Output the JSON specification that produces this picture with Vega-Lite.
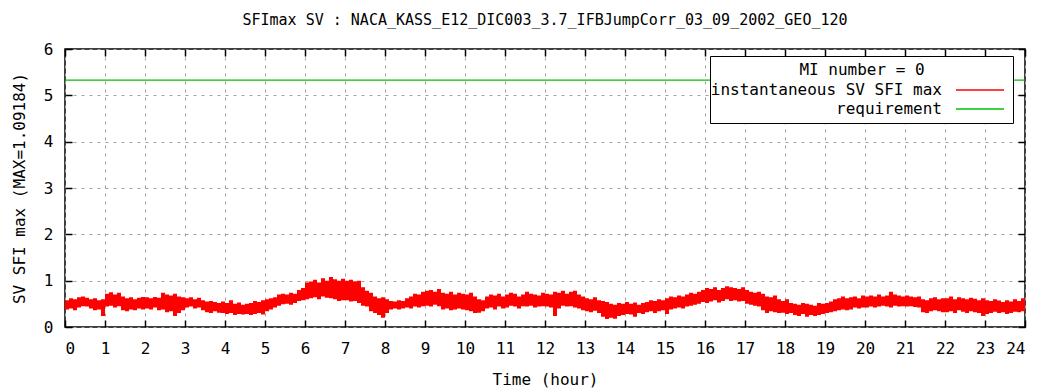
{
  "$schema": "https://vega.github.io/schema/vega-lite/v6.json",
  "width": 960,
  "height": 278,
  "autosize": {"type": "none"},
  "padding": {"left": 65, "top": 49, "right": 18, "bottom": 61},
  "background": "white",
  "title": {"text": "SFImax SV : NACA_KASS_E12_DIC003_3.7_IFBJumpCorr_03_09_2002_GEO_120", "font": "DejaVu Sans Mono", "fontSize": 15, "fontWeight": "normal", "color": "black", "offset": 13, "anchor": "middle"},
  "config": {
    "font": "DejaVu Sans Mono",
    "view": {"stroke": "black", "strokeWidth": 1.5},
    "axis": {"labelFont": "DejaVu Sans Mono", "labelFontSize": 16, "labelColor": "black", "titleFont": "DejaVu Sans Mono", "titleFontSize": 16, "titleFontWeight": "normal", "titleColor": "black", "tickColor": "black", "tickWidth": 1.5, "tickSize": -7, "domain": false, "gridColor": "#a0a0a0", "gridDash": [3, 5], "gridWidth": 1},
    "legend": {"orient": "none", "legendX": 645, "legendY": 7, "padding": 6, "strokeColor": "black", "fillColor": "white", "titleFont": "DejaVu Sans Mono", "titleFontSize": 16, "titleFontWeight": "normal", "titleColor": "black", "titleAnchor": "middle", "titleAlign": "center", "titlePadding": 4, "labelFont": "DejaVu Sans Mono", "labelFontSize": 16, "labelColor": "black", "labelAlign": "right", "labelOffset": -46, "labelLimit": 400, "symbolOffset": 256, "symbolType": "M-6,0H6", "symbolSize": 64, "symbolStrokeWidth": 1.5, "symbolFillColor": "transparent", "rowPadding": 3}
  },
  "datasets": {
    "sv": [
      {"t":0,"lo":0.38,"hi":0.58},{"t":0.1,"lo":0.40,"hi":0.62},{"t":0.2,"lo":0.36,"hi":0.60},{"t":0.3,"lo":0.42,"hi":0.64},{"t":0.4,"lo":0.45,"hi":0.66},{"t":0.5,"lo":0.44,"hi":0.63},{"t":0.6,"lo":0.40,"hi":0.60},{"t":0.7,"lo":0.36,"hi":0.62},{"t":0.8,"lo":0.38,"hi":0.58},{"t":0.9,"lo":0.24,"hi":0.60},
      {"t":1,"lo":0.44,"hi":0.72},{"t":1.1,"lo":0.46,"hi":0.75},{"t":1.2,"lo":0.42,"hi":0.70},{"t":1.3,"lo":0.45,"hi":0.74},{"t":1.4,"lo":0.36,"hi":0.66},{"t":1.5,"lo":0.34,"hi":0.62},{"t":1.6,"lo":0.38,"hi":0.64},{"t":1.7,"lo":0.36,"hi":0.60},{"t":1.8,"lo":0.40,"hi":0.63},{"t":1.9,"lo":0.38,"hi":0.65},
      {"t":2,"lo":0.40,"hi":0.64},{"t":2.1,"lo":0.38,"hi":0.62},{"t":2.2,"lo":0.42,"hi":0.65},{"t":2.3,"lo":0.36,"hi":0.63},{"t":2.4,"lo":0.38,"hi":0.74},{"t":2.5,"lo":0.32,"hi":0.70},{"t":2.6,"lo":0.34,"hi":0.68},{"t":2.7,"lo":0.24,"hi":0.72},{"t":2.8,"lo":0.30,"hi":0.66},{"t":2.9,"lo":0.36,"hi":0.64},
      {"t":3,"lo":0.42,"hi":0.62},{"t":3.1,"lo":0.44,"hi":0.64},{"t":3.2,"lo":0.40,"hi":0.60},{"t":3.3,"lo":0.42,"hi":0.63},{"t":3.4,"lo":0.36,"hi":0.58},{"t":3.5,"lo":0.32,"hi":0.55},{"t":3.6,"lo":0.30,"hi":0.56},{"t":3.7,"lo":0.34,"hi":0.54},{"t":3.8,"lo":0.31,"hi":0.52},{"t":3.9,"lo":0.30,"hi":0.55},
      {"t":4,"lo":0.28,"hi":0.52},{"t":4.1,"lo":0.30,"hi":0.58},{"t":4.2,"lo":0.26,"hi":0.50},{"t":4.3,"lo":0.28,"hi":0.53},{"t":4.4,"lo":0.27,"hi":0.48},{"t":4.5,"lo":0.28,"hi":0.50},{"t":4.6,"lo":0.26,"hi":0.52},{"t":4.7,"lo":0.28,"hi":0.56},{"t":4.8,"lo":0.30,"hi":0.54},{"t":4.9,"lo":0.27,"hi":0.58},
      {"t":5,"lo":0.34,"hi":0.60},{"t":5.1,"lo":0.38,"hi":0.62},{"t":5.2,"lo":0.42,"hi":0.64},{"t":5.3,"lo":0.46,"hi":0.70},{"t":5.4,"lo":0.49,"hi":0.72},{"t":5.5,"lo":0.50,"hi":0.70},{"t":5.6,"lo":0.48,"hi":0.74},{"t":5.7,"lo":0.52,"hi":0.72},{"t":5.8,"lo":0.56,"hi":0.80},{"t":5.9,"lo":0.58,"hi":0.84},
      {"t":6,"lo":0.60,"hi":0.96},{"t":6.1,"lo":0.62,"hi":0.98},{"t":6.2,"lo":0.64,"hi":1.02},{"t":6.3,"lo":0.60,"hi":0.96},{"t":6.4,"lo":0.66,"hi":1.05},{"t":6.5,"lo":0.63,"hi":1.00},{"t":6.6,"lo":0.62,"hi":1.08},{"t":6.7,"lo":0.60,"hi":1.03},{"t":6.8,"lo":0.56,"hi":1.00},{"t":6.9,"lo":0.58,"hi":1.04},
      {"t":7,"lo":0.58,"hi":1.00},{"t":7.1,"lo":0.55,"hi":1.02},{"t":7.2,"lo":0.56,"hi":0.98},{"t":7.3,"lo":0.52,"hi":1.00},{"t":7.4,"lo":0.46,"hi":0.86},{"t":7.5,"lo":0.44,"hi":0.78},{"t":7.6,"lo":0.34,"hi":0.74},{"t":7.7,"lo":0.30,"hi":0.66},{"t":7.8,"lo":0.26,"hi":0.62},{"t":7.9,"lo":0.20,"hi":0.64},
      {"t":8,"lo":0.30,"hi":0.60},{"t":8.1,"lo":0.38,"hi":0.56},{"t":8.2,"lo":0.40,"hi":0.55},{"t":8.3,"lo":0.38,"hi":0.58},{"t":8.4,"lo":0.40,"hi":0.56},{"t":8.5,"lo":0.42,"hi":0.62},{"t":8.6,"lo":0.40,"hi":0.66},{"t":8.7,"lo":0.44,"hi":0.72},{"t":8.8,"lo":0.42,"hi":0.70},{"t":8.9,"lo":0.45,"hi":0.76},
      {"t":9,"lo":0.46,"hi":0.78},{"t":9.1,"lo":0.44,"hi":0.80},{"t":9.2,"lo":0.48,"hi":0.76},{"t":9.3,"lo":0.45,"hi":0.82},{"t":9.4,"lo":0.38,"hi":0.74},{"t":9.5,"lo":0.40,"hi":0.72},{"t":9.6,"lo":0.36,"hi":0.76},{"t":9.7,"lo":0.38,"hi":0.70},{"t":9.8,"lo":0.40,"hi":0.74},{"t":9.9,"lo":0.38,"hi":0.72},
      {"t":10,"lo":0.36,"hi":0.70},{"t":10.1,"lo":0.34,"hi":0.74},{"t":10.2,"lo":0.30,"hi":0.66},{"t":10.3,"lo":0.31,"hi":0.60},{"t":10.4,"lo":0.34,"hi":0.58},{"t":10.5,"lo":0.40,"hi":0.66},{"t":10.6,"lo":0.42,"hi":0.70},{"t":10.7,"lo":0.38,"hi":0.68},{"t":10.8,"lo":0.44,"hi":0.72},{"t":10.9,"lo":0.40,"hi":0.66},
      {"t":11,"lo":0.42,"hi":0.70},{"t":11.1,"lo":0.46,"hi":0.74},{"t":11.2,"lo":0.44,"hi":0.72},{"t":11.3,"lo":0.40,"hi":0.66},{"t":11.4,"lo":0.45,"hi":0.70},{"t":11.5,"lo":0.44,"hi":0.76},{"t":11.6,"lo":0.46,"hi":0.72},{"t":11.7,"lo":0.42,"hi":0.70},{"t":11.8,"lo":0.44,"hi":0.68},{"t":11.9,"lo":0.45,"hi":0.74},
      {"t":12,"lo":0.44,"hi":0.72},{"t":12.1,"lo":0.42,"hi":0.70},{"t":12.2,"lo":0.24,"hi":0.76},{"t":12.3,"lo":0.40,"hi":0.74},{"t":12.4,"lo":0.46,"hi":0.78},{"t":12.5,"lo":0.44,"hi":0.72},{"t":12.6,"lo":0.45,"hi":0.76},{"t":12.7,"lo":0.42,"hi":0.78},{"t":12.8,"lo":0.40,"hi":0.70},{"t":12.9,"lo":0.36,"hi":0.66},
      {"t":13,"lo":0.34,"hi":0.62},{"t":13.1,"lo":0.32,"hi":0.60},{"t":13.2,"lo":0.35,"hi":0.64},{"t":13.3,"lo":0.30,"hi":0.58},{"t":13.4,"lo":0.22,"hi":0.56},{"t":13.5,"lo":0.17,"hi":0.54},{"t":13.6,"lo":0.20,"hi":0.50},{"t":13.7,"lo":0.18,"hi":0.48},{"t":13.8,"lo":0.24,"hi":0.52},{"t":13.9,"lo":0.26,"hi":0.50},
      {"t":14,"lo":0.28,"hi":0.54},{"t":14.1,"lo":0.27,"hi":0.50},{"t":14.2,"lo":0.22,"hi":0.53},{"t":14.3,"lo":0.30,"hi":0.48},{"t":14.4,"lo":0.28,"hi":0.52},{"t":14.5,"lo":0.32,"hi":0.54},{"t":14.6,"lo":0.34,"hi":0.58},{"t":14.7,"lo":0.30,"hi":0.56},{"t":14.8,"lo":0.34,"hi":0.60},{"t":14.9,"lo":0.36,"hi":0.58},
      {"t":15,"lo":0.28,"hi":0.62},{"t":15.1,"lo":0.38,"hi":0.66},{"t":15.2,"lo":0.40,"hi":0.64},{"t":15.3,"lo":0.42,"hi":0.68},{"t":15.4,"lo":0.40,"hi":0.66},{"t":15.5,"lo":0.44,"hi":0.70},{"t":15.6,"lo":0.46,"hi":0.74},{"t":15.7,"lo":0.48,"hi":0.72},{"t":15.8,"lo":0.50,"hi":0.76},{"t":15.9,"lo":0.54,"hi":0.80},
      {"t":16,"lo":0.52,"hi":0.84},{"t":16.1,"lo":0.55,"hi":0.82},{"t":16.2,"lo":0.58,"hi":0.86},{"t":16.3,"lo":0.53,"hi":0.80},{"t":16.4,"lo":0.56,"hi":0.84},{"t":16.5,"lo":0.60,"hi":0.88},{"t":16.6,"lo":0.56,"hi":0.86},{"t":16.7,"lo":0.58,"hi":0.84},{"t":16.8,"lo":0.55,"hi":0.82},{"t":16.9,"lo":0.56,"hi":0.86},
      {"t":17,"lo":0.50,"hi":0.80},{"t":17.1,"lo":0.48,"hi":0.76},{"t":17.2,"lo":0.46,"hi":0.74},{"t":17.3,"lo":0.44,"hi":0.76},{"t":17.4,"lo":0.36,"hi":0.72},{"t":17.5,"lo":0.30,"hi":0.66},{"t":17.6,"lo":0.34,"hi":0.64},{"t":17.7,"lo":0.32,"hi":0.68},{"t":17.8,"lo":0.30,"hi":0.60},{"t":17.9,"lo":0.31,"hi":0.56},
      {"t":18,"lo":0.28,"hi":0.60},{"t":18.1,"lo":0.30,"hi":0.52},{"t":18.2,"lo":0.26,"hi":0.50},{"t":18.3,"lo":0.24,"hi":0.48},{"t":18.4,"lo":0.28,"hi":0.52},{"t":18.5,"lo":0.22,"hi":0.50},{"t":18.6,"lo":0.26,"hi":0.48},{"t":18.7,"lo":0.24,"hi":0.46},{"t":18.8,"lo":0.26,"hi":0.52},{"t":18.9,"lo":0.28,"hi":0.50},
      {"t":19,"lo":0.30,"hi":0.52},{"t":19.1,"lo":0.32,"hi":0.55},{"t":19.2,"lo":0.34,"hi":0.60},{"t":19.3,"lo":0.36,"hi":0.62},{"t":19.4,"lo":0.38,"hi":0.66},{"t":19.5,"lo":0.36,"hi":0.62},{"t":19.6,"lo":0.38,"hi":0.64},{"t":19.7,"lo":0.42,"hi":0.66},{"t":19.8,"lo":0.40,"hi":0.62},{"t":19.9,"lo":0.42,"hi":0.68},
      {"t":20,"lo":0.42,"hi":0.66},{"t":20.1,"lo":0.44,"hi":0.68},{"t":20.2,"lo":0.42,"hi":0.66},{"t":20.3,"lo":0.44,"hi":0.70},{"t":20.4,"lo":0.46,"hi":0.66},{"t":20.5,"lo":0.44,"hi":0.68},{"t":20.6,"lo":0.42,"hi":0.76},{"t":20.7,"lo":0.46,"hi":0.70},{"t":20.8,"lo":0.44,"hi":0.68},{"t":20.9,"lo":0.45,"hi":0.66},
      {"t":21,"lo":0.44,"hi":0.68},{"t":21.1,"lo":0.45,"hi":0.66},{"t":21.2,"lo":0.43,"hi":0.64},{"t":21.3,"lo":0.42,"hi":0.66},{"t":21.4,"lo":0.32,"hi":0.60},{"t":21.5,"lo":0.30,"hi":0.58},{"t":21.6,"lo":0.34,"hi":0.62},{"t":21.7,"lo":0.36,"hi":0.64},{"t":21.8,"lo":0.34,"hi":0.60},{"t":21.9,"lo":0.32,"hi":0.62},
      {"t":22,"lo":0.32,"hi":0.62},{"t":22.1,"lo":0.34,"hi":0.66},{"t":22.2,"lo":0.30,"hi":0.60},{"t":22.3,"lo":0.36,"hi":0.64},{"t":22.4,"lo":0.33,"hi":0.62},{"t":22.5,"lo":0.30,"hi":0.60},{"t":22.6,"lo":0.34,"hi":0.63},{"t":22.7,"lo":0.32,"hi":0.61},{"t":22.8,"lo":0.30,"hi":0.58},{"t":22.9,"lo":0.24,"hi":0.62},
      {"t":23,"lo":0.28,"hi":0.58},{"t":23.1,"lo":0.30,"hi":0.56},{"t":23.2,"lo":0.33,"hi":0.60},{"t":23.3,"lo":0.30,"hi":0.57},{"t":23.4,"lo":0.32,"hi":0.54},{"t":23.5,"lo":0.28,"hi":0.58},{"t":23.6,"lo":0.30,"hi":0.55},{"t":23.7,"lo":0.33,"hi":0.60},{"t":23.8,"lo":0.32,"hi":0.56},{"t":23.9,"lo":0.34,"hi":0.62},
      {"t":24,"lo":0.36,"hi":0.58}
    ],
    "req": [{"t0": 0, "t1": 24, "v": 5.33}]
  },
  "layer": [
    {
      "data": {"name": "sv"},
      "mark": {"type": "area", "interpolate": "step-after", "fill": "#ff0000", "strokeWidth": 0},
      "encoding": {
        "x": {"field": "t", "type": "quantitative", "scale": {"domain": [0, 24], "nice": false}, "axis": {"orient": "bottom", "title": "Time (hour)", "values": [0,1,2,3,4,5,6,7,8,9,10,11,12,13,14,15,16,17,18,19,20,21,22,23,24], "grid": true, "labelPadding": 20, "titlePadding": 15}},
        "y": {"field": "lo", "type": "quantitative", "scale": {"domain": [0, 6], "nice": false}, "axis": {"orient": "left", "title": "SV SFI max (MAX=1.09184)", "values": [0,1,2,3,4,5,6], "grid": true, "labelPadding": 19, "titlePadding": 16}},
        "y2": {"field": "hi"},
        "stroke": {"datum": "instantaneous SV SFI max", "type": "nominal", "scale": {"domain": ["instantaneous SV SFI max", "requirement"], "range": ["#ff0000", "#00c000"]}, "legend": {"title": "MI number = 0"}}
      }
    },
    {
      "data": {"name": "req"},
      "mark": {"type": "rule", "strokeWidth": 1.2},
      "encoding": {
        "x": {"field": "t0", "type": "quantitative", "scale": {"domain": [0, 24], "nice": false}, "axis": {"orient": "top", "title": null, "labels": false, "grid": false, "values": [0,1,2,3,4,5,6,7,8,9,10,11,12,13,14,15,16,17,18,19,20,21,22,23,24]}},
        "x2": {"field": "t1"},
        "y": {"field": "v", "type": "quantitative", "scale": {"domain": [0, 6], "nice": false}, "axis": {"orient": "right", "title": null, "labels": false, "grid": false, "values": [0,1,2,3,4,5,6]}},
        "stroke": {"datum": "requirement", "type": "nominal"}
      }
    }
  ],
  "resolve": {"axis": {"x": "independent", "y": "independent"}}
}
